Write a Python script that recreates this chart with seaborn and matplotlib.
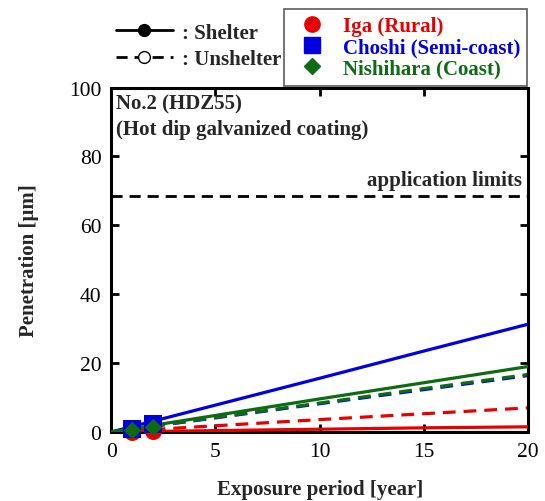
import numpy as np
import pandas as pd
import seaborn as sns
import matplotlib
matplotlib.use("Agg")
import matplotlib.pyplot as plt
from matplotlib.lines import Line2D

# Measured penetration of the zinc coating (sheltered exposure)
sites = ["Iga (Rural)", "Choshi (Semi-coast)", "Nishihara (Coast)"]
obs_years = [1, 2]
iga_obs = [0.1, 0.2]
choshi_obs = [1.0, 2.3]
nishihara_obs = [0.5, 1.5]

# Predicted penetration curves over the exposure period
pred_years = [0, 5, 10, 15, 20]
iga_shelter = [0.0, 0.4, 0.8, 1.2, 1.5]
iga_unshelter = [0.0, 1.8, 3.6, 5.3, 7.0]
choshi_shelter = [0.0, 7.8, 15.6, 23.5, 31.3]
choshi_unshelter = [0.0, 4.1, 8.2, 12.3, 16.4]
nishihara_shelter = [0.0, 4.8, 9.6, 14.3, 19.0]
nishihara_unshelter = [0.0, 4.2, 8.4, 12.6, 16.7]

application_limit = 68.5

colors = {"Iga (Rural)": "#e60000", "Choshi (Semi-coast)": "#0000e0",
          "Nishihara (Coast)": "#0e6b14"}
markers = {"Iga (Rural)": "o", "Choshi (Semi-coast)": "s", "Nishihara (Coast)": "D"}
msizes = {"Iga (Rural)": 150, "Choshi (Semi-coast)": 150, "Nishihara (Coast)": 80}

sns.set_theme(style="ticks")
plt.rcParams["font.family"] = ["Liberation Serif", "DejaVu Serif"]

curves = pd.concat([
    pd.DataFrame({"year": pred_years, "pen": vals, "site": s, "cond": c})
    for s, c, vals in [
        (sites[0], "Shelter", iga_shelter), (sites[0], "Unshelter", iga_unshelter),
        (sites[1], "Shelter", choshi_shelter), (sites[1], "Unshelter", choshi_unshelter),
        (sites[2], "Shelter", nishihara_shelter), (sites[2], "Unshelter", nishihara_unshelter),
    ]
], ignore_index=True)

obs = pd.concat([
    pd.DataFrame({"year": obs_years, "pen": vals, "site": s})
    for s, vals in zip(sites, [iga_obs, choshi_obs, nishihara_obs])
], ignore_index=True)

fig = plt.figure(figsize=(5.45, 5.02), dpi=100)
ax = fig.add_axes([0.204, 0.1375, 0.765, 0.686])

ax.axhline(application_limit, color="black", lw=2, ls=(0, (4, 2.5)), zorder=1)

for (s, c), d in curves.groupby(["site", "cond"]):
    sns.lineplot(data=d, x="year", y="pen", ax=ax, color=colors[s], lw=2.3,
                 linestyle="-" if c == "Shelter" else (0, (4, 2.5)),
                 zorder=3 if c == "Shelter" else 2, legend=False)

for s in sites:
    d = obs[obs.site == s]
    sns.scatterplot(data=d, x="year", y="pen", ax=ax, color=colors[s],
                    marker=markers[s], s=msizes[s], linewidth=0, zorder=5,
                    legend=False, clip_on=False)

ax.set_xlim(0, 20)
ax.set_ylim(0, 100)
ax.set_xticks([0, 5, 10, 15, 20])
ax.set_yticks([0, 20, 40, 60, 80, 100])
ax.tick_params(direction="in", length=6, width=2, labelsize=15.5, pad=7,
               top=True, right=True, colors="black")
for sp in ax.spines.values():
    sp.set_linewidth(2.2)
    sp.set_color("black")

ax.set_xlabel("Exposure period [year]", fontsize=15, fontweight="bold", labelpad=13)
ax.set_ylabel("Penetration [\u03bcm]", fontsize=15, fontweight="bold", labelpad=22)

ax.text(0.012, 0.983, "No.2 (HDZ55)\n(Hot dip galvanized coating)",
        transform=ax.transAxes, ha="left", va="top", fontsize=15,
        fontweight="bold", linespacing=1.4)
ax.text(0.985, application_limit + 1.8, "application limits",
        transform=ax.get_yaxis_transform(), ha="right",
        va="bottom", fontsize=15, fontweight="bold")

# Condition key (line style)
cond_handles = [
    Line2D([], [], color="black", lw=2, ls="-", marker="o", ms=8.5,
           markerfacecolor="black"),
    Line2D([], [], color="black", lw=2, ls=(0, (4, 2.5)), marker="o", ms=8.5,
           markerfacecolor="white"),
]
fig.legend(cond_handles, [": Shelter", ": Unshelter"], loc="upper left",
           bbox_to_anchor=(0.178, 0.99), frameon=False, handlelength=2.75,
           handletextpad=0.45, labelspacing=0.3,
           prop={"size": 15, "weight": "bold"})

# Site key (marker and colour)
site_handles = [Line2D([], [], ls="none", marker=markers[s], color=colors[s],
                       ms=11 if s != sites[2] else 8) for s in sites]
leg = ax.legend(site_handles, sites, loc="lower right",
                bbox_to_anchor=(0.998, 1.006), frameon=True, fancybox=False,
                handletextpad=0.45, labelspacing=0.05, borderpad=0.35,
                prop={"size": 15, "weight": "bold"}, borderaxespad=0)
leg.get_frame().set_edgecolor("#333333")
leg.get_frame().set_linewidth(1.2)
for t, s in zip(leg.get_texts(), sites):
    t.set_color(colors[s])

fig.savefig("out.png", dpi=100)
